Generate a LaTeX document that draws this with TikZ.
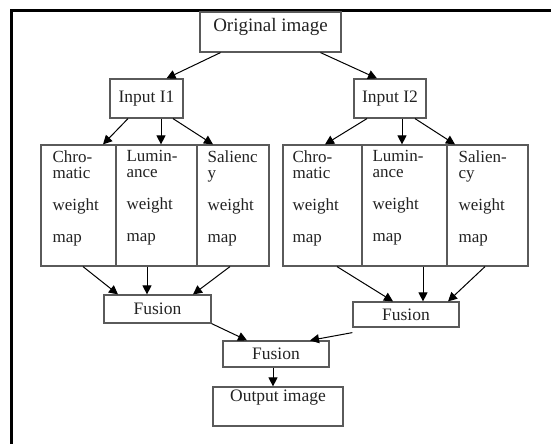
\documentclass[tikz,border=0pt]{standalone}
\usepackage{fontspec}
\setmainfont{Liberation Serif}
\usetikzlibrary{arrows.meta}

\definecolor{boxgray}{HTML}{5A5A5A}
\definecolor{inkgray}{HTML}{222222}

\tikzset{
    box/.style={draw=boxgray, line width=1.2pt, inner sep=0pt,
        font=\fontsize{17.5}{15}\selectfont, text=inkgray},
    maptext/.style={anchor=north west, inner sep=0pt, align=left,
        font=\fontsize{17}{16}\selectfont, text=inkgray},
    arr/.style={line width=1pt, -{Triangle[length=9pt, width=9pt]}},
}

\begin{document}
\begin{tikzpicture}[x=1pt, y=-1pt]
        \useasboundingbox (0,0) rectangle (551,444);

        % --- 枠 ---
        \draw[line width=3pt] (10,11) -- (551,11);
        \draw[line width=3pt] (11,10) -- (11,444);

        % --- 上段 ---
        \node[box, minimum width=141, minimum height=40, text depth=14pt,
            font=\fontsize{19}{15}\selectfont] (orig) at (270.5,32) {Original image};
        \node[box, minimum width=73, minimum height=39] (inA) at (146.5,98.5) {Input I1};
        \node[box, minimum width=72, minimum height=39] (inB) at (390,98.5) {Input I2};

        % --- weight map ---
        \node[box, minimum width=75, minimum height=121] (cA) at (78.5,205.5) {};
        \node[box, minimum width=81, minimum height=121] (lA) at (156.5,205.5) {};
        \node[box, minimum width=72, minimum height=121] (sA) at (233,205.5) {};
        \node[box, minimum width=79, minimum height=121] (cB) at (322.5,205.5) {};
        \node[box, minimum width=85, minimum height=121] (lB) at (404.5,205.5) {};
        \node[box, minimum width=81, minimum height=121] (sB) at (487.5,205.5) {};

        \node[maptext] (cAt) at ([shift={(12,6)}]cA.north west) {Chro-\\matic\\[16pt]weight\\[16pt]map};
        \node[maptext] (lAt) at ([shift={(11,6)}]lA.north west) {Lumin-\\ance\\[16pt]weight\\[16pt]map};
        \node[maptext] (sAt) at ([shift={(11,6)}]sA.north west) {Salienc\\y\\[16pt]weight\\[16pt]map};
        \node[maptext] (cBt) at ([shift={(10,6)}]cB.north west) {Chro-\\matic\\[16pt]weight\\[16pt]map};
        \node[maptext] (lBt) at ([shift={(11,6)}]lB.north west) {Lumin-\\ance\\[16pt]weight\\[16pt]map};
        \node[maptext] (sBt) at ([shift={(12,6)}]sB.north west) {Salien-\\cy\\[16pt]weight\\[16pt]map};

        % --- Fusion ---
        \node[box, minimum width=107, minimum height=28] (fuA) at (157.5,309) {Fusion};
        \node[box, minimum width=106, minimum height=25] (fuB) at (406,314.5) {Fusion};
        \node[box, minimum width=106, minimum height=26] (fuC) at (276,354) {Fusion};
        \node[box, minimum width=130, minimum height=39, text depth=21pt] (out) at (278,406.5) {Output image};

        % --- 矢印 ---
        \draw[arr] ([xshift=-50]orig.south) -- ([xshift=20]inA.north);
        \draw[arr] ([xshift=50]orig.south) -- ([xshift=-13]inB.north);

        \draw[arr] ([xshift=-18.5]inA.south) -- ([xshift=24.5]cA.north);
        \draw[arr] ([xshift=14.5]inA.south) -- ([xshift=14.5]inA.south |- lA.north);
        \draw[arr] ([xshift=26.5]inA.south) -- ([xshift=-20]sA.north);
        \draw[arr] ([xshift=-23]inB.south) -- ([xshift=2.5]cB.north);
        \draw[arr] ([xshift=12]inB.south) -- ([xshift=12]inB.south |- lB.north);
        \draw[arr] ([xshift=25]inB.south) -- ([xshift=-32.5]sB.north);

        \draw[arr] ([xshift=4.5]cA.south) -- ([xshift=-39.5]fuA.north);
        \draw[arr] ([xshift=-9.5]lA.south) -- ([xshift=-9.5]lA.south |- fuA.north);
        \draw[arr] ([xshift=-3]sA.south) -- ([xshift=35.5]fuA.north);
        \draw[arr] ([xshift=14.5]cB.south) -- ([xshift=-13]fuB.north);
        \draw[arr] ([xshift=18.5]lB.south) -- ([xshift=18.5]lB.south |- fuB.north);
        \draw[arr] ([xshift=-2.5]sB.south) -- ([xshift=42]fuB.north);

        \draw[arr] (fuA.south east) -- ([xshift=-29]fuC.north);
        \draw[arr] ([yshift=-5]fuB.south west) -- ([xshift=34]fuC.north);
        \draw[arr] ([xshift=-3]fuC.south) -- ([xshift=-3]fuC.south |- out.north);

    \end{tikzpicture}
\end{document}
